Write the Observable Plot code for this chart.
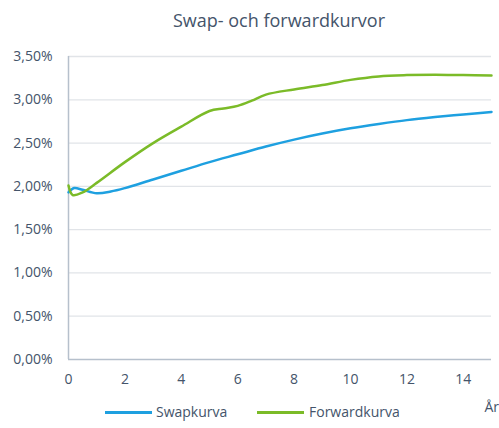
<!DOCTYPE html>
<html>
<head>
<meta charset="utf-8">
<script src="https://cdn.jsdelivr.net/npm/d3@7"></script>
<script src="https://cdn.jsdelivr.net/npm/@observablehq/plot@0.6"></script>
<style>
  html, body { margin: 0; padding: 0; background: #fff; }
  #wrap { position: relative; width: 499px; height: 428px; overflow: hidden; font-family: "Open Sans", sans-serif; color: #44546a; }
  #title { position: absolute; left: 0; top: 0; width: 558px; height: 40px; line-height: 40px; text-align: center; font-size: 18px; }
  #chart { position: absolute; left: 0; top: 40px; }
  #legend { position: absolute; left: 0; top: 400px; width: 499px; height: 24px; font-size: 14px; }
  .item { position: absolute; top: 0; height: 24px; line-height: 24px; }
  .sw { position: absolute; top: 11px; height: 3px; }
</style>
</head>
<body>
<div id="wrap">
  <div id="title">Swap- och forwardkurvor</div>
  <div id="chart"></div>
  <div id="legend"></div>
</div>
<script>
// Data (x = years, y = percent)
const seriesNames = ["Swapkurva", "Forwardkurva"];
const seriesColors = ["#1ea0e0", "#7bbb28"];
const swapYears = [0, 0.2, 0.5, 1, 1.5, 2, 3, 4, 5, 6, 7, 8, 9, 10, 11, 12, 13, 14, 15];
const swapRates = [1.93, 1.98, 1.96, 1.92, 1.94, 1.98, 2.08, 2.18, 2.28, 2.37, 2.46, 2.54, 2.61, 2.67, 2.72, 2.765, 2.80, 2.83, 2.86];
const fwdYears = [0, 0.15, 0.5, 1, 2, 3, 4, 5, 5.5, 6, 6.5, 7, 8, 9, 10, 11, 12, 13, 14, 15];
const fwdRates = [2.01, 1.90, 1.93, 2.04, 2.28, 2.50, 2.69, 2.87, 2.90, 2.93, 2.99, 3.06, 3.12, 3.17, 3.23, 3.27, 3.285, 3.29, 3.285, 3.28];
const xTicks = [0, 2, 4, 6, 8, 10, 12, 14];
const yTicks = [0, 0.5, 1, 1.5, 2, 2.5, 3, 3.5];
const xLabel = "År";

const swap = swapYears.map((x, i) => ({x, y: swapRates[i]}));
const fwd = fwdYears.map((x, i) => ({x, y: fwdRates[i]}));

const textColor = "#44546a";
const plot = Plot.plot({
  width: 499,
  height: 360,
  marginLeft: 68,
  marginRight: 8,
  marginTop: 16,
  marginBottom: 41,
  style: {fontFamily: "Open Sans, sans-serif", fontSize: "14px", color: textColor, background: "#fff", overflow: "visible"},
  x: {domain: [0, 15]},
  y: {domain: [0, 3.5]},
  marks: [
    Plot.ruleY(yTicks.filter(d => d > 0), {stroke: "#e1e4e8", strokeWidth: 1.3}),
    Plot.ruleY([0], {stroke: "#b6c0cc", strokeWidth: 1.5}),
    Plot.ruleX([0], {stroke: "#b6c0cc", strokeWidth: 1.5}),
    Plot.axisY({ticks: yTicks, tickSize: 0, tickPadding: 16, label: null,
      tickFormat: d => d.toFixed(2).replace(".", ",") + "%", fill: textColor}),
    Plot.axisX({ticks: xTicks, tickSize: 0, tickPadding: 15, label: null, fill: textColor}),
    Plot.text([xLabel], {frameAnchor: "bottom-right", text: d => d, textAnchor: "start", dx: -7, dy: 52, fill: textColor, fontSize: 14}),
    Plot.line(swap, {x: "x", y: "y", stroke: seriesColors[0], strokeWidth: 2.5, curve: "catmull-rom"}),
    Plot.line(fwd, {x: "x", y: "y", stroke: seriesColors[1], strokeWidth: 2.5, curve: "catmull-rom"})
  ]
});
document.getElementById("chart").appendChild(plot);

const legend = document.getElementById("legend");
const positions = [{sw: 105, tx: 156}, {sw: 257, tx: 309}];
seriesNames.forEach((name, i) => {
  const sw = document.createElement("div");
  sw.className = "sw";
  sw.style.left = positions[i].sw + "px";
  sw.style.width = "47px";
  sw.style.background = seriesColors[i];
  legend.appendChild(sw);
  const t = document.createElement("div");
  t.className = "item";
  t.style.left = positions[i].tx + "px";
  t.textContent = name;
  legend.appendChild(t);
});
</script>
</body>
</html>
